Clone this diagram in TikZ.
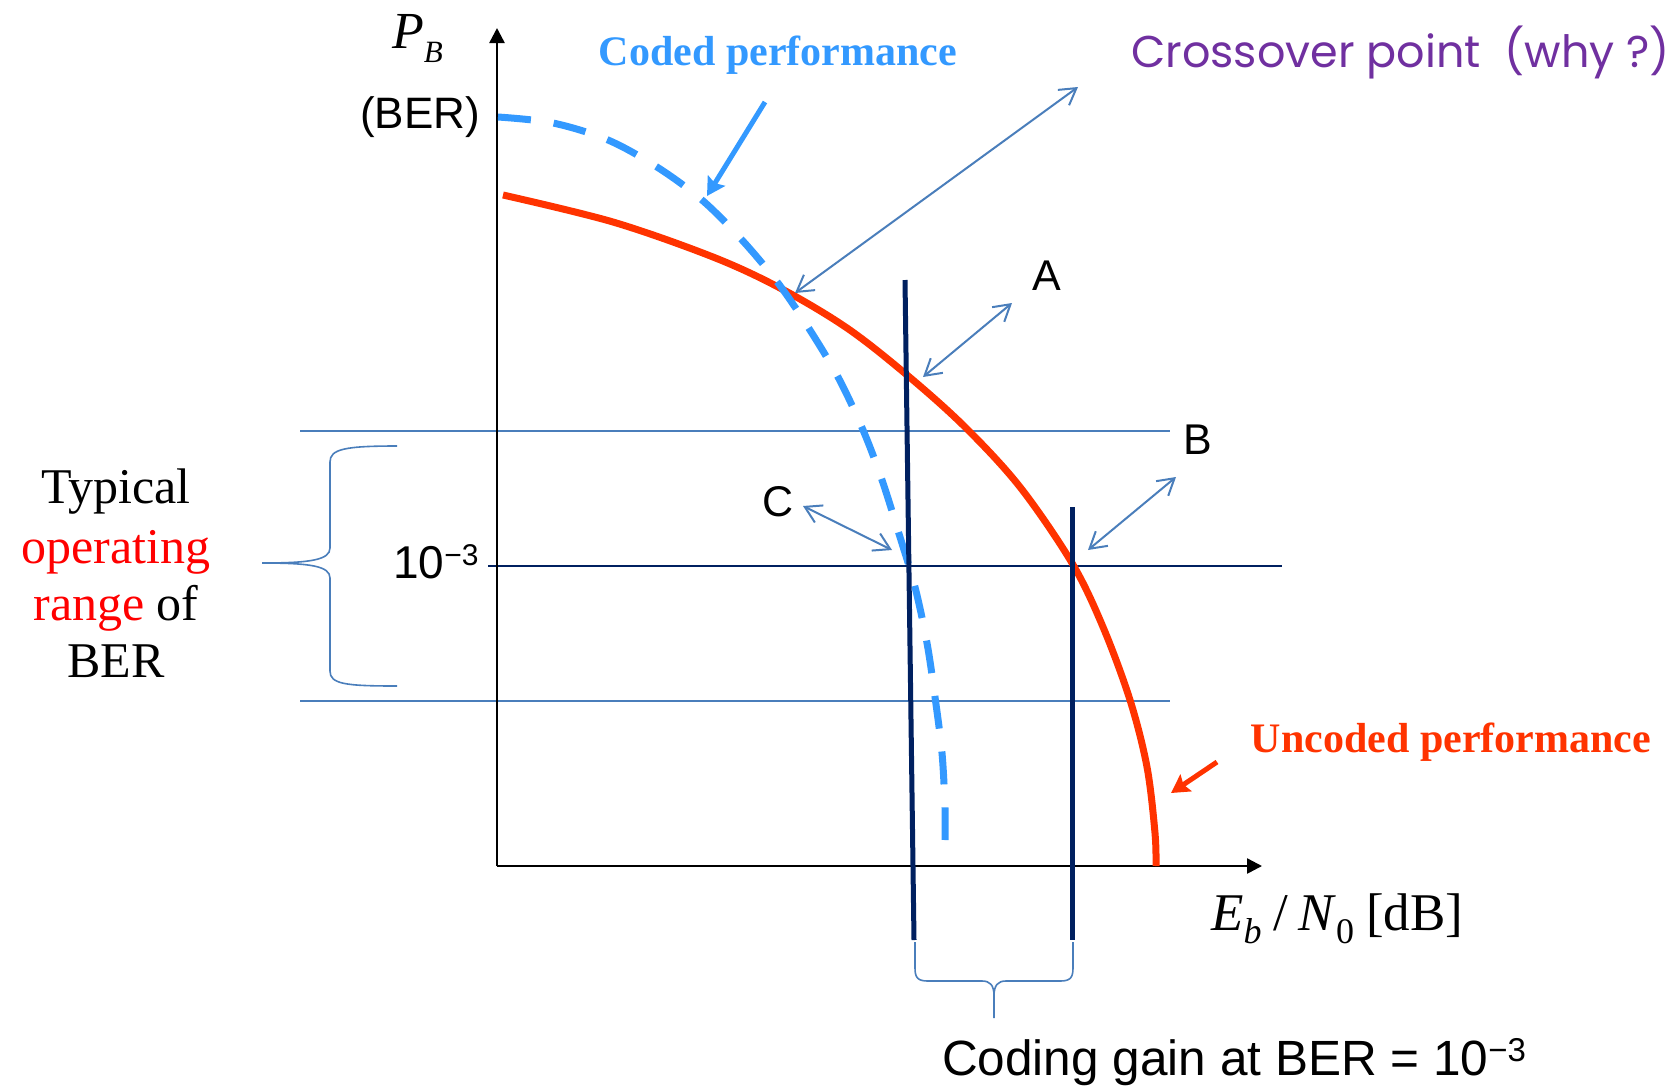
\documentclass[tikz,border=0pt]{standalone}
\usepackage{fontspec}
\setmainfont{Liberation Serif}
\setsansfont{Liberation Sans}
\newfontfamily\handfont{Poppins}
\usetikzlibrary{arrows.meta}

\definecolor{codedblue}{RGB}{51,153,255}
\definecolor{uncodedred}{RGB}{255,51,0}
\definecolor{gainnavy}{RGB}{0,32,96}
\definecolor{guideblue}{RGB}{74,126,187}
\definecolor{notepurple}{RGB}{112,48,160}
\definecolor{labelred}{RGB}{255,0,0}

\newcommand\supnum[3]{\raisebox{#1}{\fontsize{#2}{#2}\selectfont #3}}

\tikzset{
  sanslabel/.style={font=\sffamily\fontsize{43}{43}\selectfont, inner sep=0pt},
  titletext/.style={font=\bfseries\fontsize{42}{42}\selectfont, inner sep=0pt},
  rangetext/.style={font=\fontsize{50}{50}\selectfont, inner sep=0pt, anchor=base},
  axisline/.style={line width=2.5pt, -{Triangle[length=15pt,width=15pt]}},
  guideline/.style={draw=guideblue, line width=1.6pt},
  refline/.style={draw=gainnavy, line width=1.6pt},
  gainline/.style={draw=gainnavy, line width=5pt},
  codedcurve/.style={draw=codedblue, line width=7pt, dash pattern=on 33pt off 23pt},
  uncodedcurve/.style={draw=uncodedred, line width=7pt},
  pointer/.style={draw=guideblue, line width=2pt,
    {Straight Barb[length=16pt,width=19pt]}-{Straight Barb[length=16pt,width=19pt]}},
  callout/.style={line width=5pt, -{Stealth[length=18pt,width=20pt,inset=3pt]}},
  bracepath/.style={draw=guideblue, line width=1.6pt},
}

\begin{document}
\begin{tikzpicture}[x=1pt,y=-1pt]
\useasboundingbox (0,0) rectangle (1671,1088);

% range guide lines and the 10^-3 reference level
\draw[guideline] (300,431) -- (1170,431);
\draw[guideline] (300,701) -- (1170,701);
\draw[refline] (488,566) -- (1282,566);

% axes
\coordinate (origin) at (497,866);
\coordinate (ytip) at (497,28);
\coordinate (xtip) at (1262,866);
\draw[axisline] (origin) -- (ytip);
\draw[axisline] (origin) -- (xtip);

% BER curves
\draw[uncodedcurve] plot[smooth, tension=0.55] coordinates {
  (503,195) (613,222) (713,257) (780,288) (847,328) (907,375) (965,427)
  (1020,487) (1072,563) (1103,627) (1130,700) (1147,767) (1155,833) (1156,866)};
\draw[codedcurve] plot[smooth, tension=0.55] coordinates {
  (498,117) (553,123) (608,140) (657,167) (702,200) (742,240) (778,283)
  (808,327) (838,377) (863,430) (882,480) (900,537) (915,587) (927,643)
  (935,697) (942,753) (945,808) (945,840)};

% Eb/N0 markers at the crossings
\draw[gainline] (905,280) -- (914,940);
\draw[gainline] (1072,507) -- (1072,940);

% axis labels
\node[anchor=base west, inner sep=0pt, font=\fontsize{52}{52}\selectfont] (pb) at (392,48)
  {\textit{P}\raisebox{-14pt}{\fontsize{31}{31}\selectfont\textit{B}}};
\node[sanslabel, anchor=base, font=\sffamily\fontsize{44}{44}\selectfont] (ber) at (420,128) {(BER)};
\node[anchor=base west, inner sep=0pt, font=\sffamily\fontsize{46}{46}\selectfont] (lev) at (393,578)
  {10\supnum{13pt}{30}{−3}};
\node[anchor=base west, inner sep=0pt, font=\fontsize{53}{53}\selectfont] (ebn0) at (1211,930)
  {\textit{E}\raisebox{-13pt}{\fontsize{36}{36}\selectfont\textit{b}}\kern12pt/\kern10pt\textit{N}\raisebox{-13pt}{\fontsize{36}{36}\selectfont 0}\kern12pt[dB]};

% curve titles
\node[titletext, text=codedblue, anchor=base] (coded) at (778,65) {Coded performance};
\node[titletext, text=uncodedred, anchor=base] (uncoded) at (1451,752) {Uncoded performance};
\node[anchor=base west, inner sep=0pt, text=notepurple, font=\handfont\fontsize{44.5}{44.5}\selectfont] (xnote) at (1131,67)
  {Crossover point\ \ (why ?)};

% point labels
\node[sanslabel] (lblA) at (1047,276) {A};
\node[sanslabel] (lblB) at (1198,440) {B};
\node[sanslabel] (lblC) at (778,502) {C};

% pointer arrows
\coordinate (xover) at (795,293);
\coordinate (xoverend) at (1078,87);
\coordinate (ptA) at (923,377);
\coordinate (ptAend) at (1012,303);
\coordinate (ptB) at (1088,550);
\coordinate (ptBend) at (1176,477);
\coordinate (ptC) at (892,550);
\coordinate (ptCend) at (803,506);
\draw[pointer] (xover) -- (xoverend);
\draw[pointer] (ptA) -- (ptAend);
\draw[pointer] (ptB) -- (ptBend);
\draw[pointer] (ptCend) -- (ptC);

\coordinate (codedtail) at (765,102);
\coordinate (codedhead) at (707,196);
\draw[callout, draw=codedblue, fill=codedblue] (codedtail) -- (codedhead);
\coordinate (uncodedtail) at (1217,762);
\coordinate (uncodedhead) at (1171,793);
\draw[callout, draw=uncodedred, fill=uncodedred] (uncodedtail) -- (uncodedhead);

% operating range brace and caption
\draw[bracepath] (397,446) .. controls (345,446) and (330,449) .. (330,462)
  -- (330,548) .. controls (330,560) and (310,563) .. (262,563)
  .. controls (310,563) and (330,566) .. (330,578)
  -- (330,671) .. controls (330,684) and (345,686) .. (397,686);
\node[rangetext] (t1) at (116,503) {Typical};
\node[rangetext, text=labelred] (t2) at (116,563) {operating};
\node[rangetext] (t3) at (116,620) {\textcolor{labelred}{range} of};
\node[rangetext] (t4) at (116,677) {BER};

% coding gain brace and caption
\draw[bracepath] (915,942) -- (915,968) .. controls (915,978) and (918,981) .. (928,981)
  -- (982,981) .. controls (990,981) and (994,985) .. (994,996) -- (994,1018);
\draw[bracepath] (994,996) .. controls (994,985) and (998,981) .. (1006,981)
  -- (1060,981) .. controls (1070,981) and (1073,978) .. (1073,968) -- (1073,942);
\node[anchor=base west, inner sep=0pt, font=\sffamily\fontsize{49.5}{49.5}\selectfont] (gain) at (942,1075)
  {Coding gain at BER = 10\supnum{14pt}{33}{−3}};
\end{tikzpicture}
\end{document}
